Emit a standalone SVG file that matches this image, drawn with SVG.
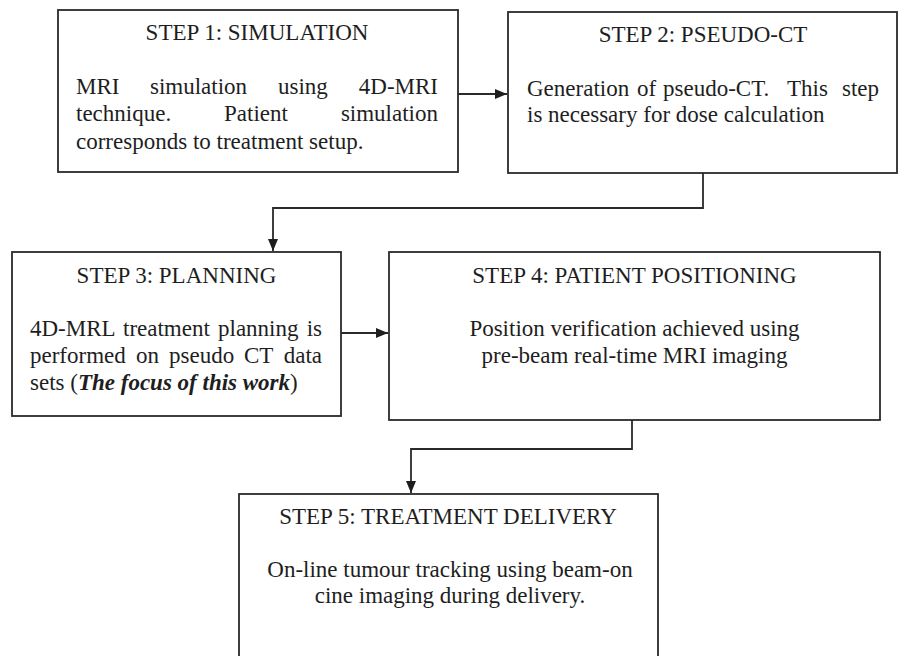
<svg xmlns="http://www.w3.org/2000/svg" width="901" height="656" viewBox="0 0 901 656">
<style>
.box{fill:#fff;stroke:#2a2a2a;stroke-width:1.8}
text{font-family:'Liberation Serif','Times New Roman','DejaVu Serif',serif;font-size:23px;fill:#1e1e1e}
.c{text-anchor:middle}
.e{text-anchor:end}
.bi{font-weight:bold;font-style:italic}
.ln{fill:none;stroke:#2a2a2a;stroke-width:1.8}
</style>
<defs>
<marker id="ah" viewBox="0 0 12 10" refX="12" refY="5" markerWidth="12" markerHeight="10" markerUnits="userSpaceOnUse" orient="auto">
<path d="M0,0 L12,5 L0,10 Z" fill="#1e1e1e"/>
</marker>
</defs>
<rect width="901" height="656" fill="#fff"/>
<g id="connectors">
<path class="ln" d="M458,94 H507" marker-end="url(#ah)"/>
<path class="ln" d="M703,173 V208 H273 V251" marker-end="url(#ah)"/>
<path class="ln" d="M341,333 H388" marker-end="url(#ah)"/>
<path class="ln" d="M632,420 V449 H411 V493" marker-end="url(#ah)"/>
</g>
<g id="step1">
<rect class="box" x="58" y="10" width="400" height="162"/>
<text class="c" x="257" y="40">STEP 1: SIMULATION</text>
<text x="76" y="94">MRI</text>
<text x="150" y="94">simulation</text>
<text x="278" y="94">using</text>
<text class="e" x="438" y="94">4D-MRI</text>
<text x="76" y="121">technique.</text>
<text x="224" y="121">Patient</text>
<text class="e" x="438" y="121">simulation</text>
<text x="76" y="149">corresponds to treatment setup.</text>
</g>
<g id="step2">
<rect class="box" x="508" y="12" width="389" height="161"/>
<text class="c" x="703" y="42">STEP 2: PSEUDO-CT</text>
<text x="527" y="96">Generation</text>
<text x="637" y="96">of</text>
<text x="663" y="96">pseudo-CT.</text>
<text x="787" y="96">This</text>
<text class="e" x="879" y="96">step</text>
<text x="527" y="122">is necessary for dose calculation</text>
</g>
<g id="step3">
<rect class="box" x="12" y="252" width="329" height="164"/>
<text class="c" x="176.5" y="283">STEP 3: PLANNING</text>
<text x="30" y="336">4D-MRL</text>
<text x="123" y="336">treatment</text>
<text x="218" y="336">planning</text>
<text class="e" x="322" y="336">is</text>
<text x="30" y="363">performed</text>
<text x="136" y="363">on</text>
<text x="169" y="363">pseudo</text>
<text x="244" y="363">CT</text>
<text class="e" x="322" y="363">data</text>
<text x="30" y="390">sets (<tspan class="bi">The focus of this work</tspan>)</text>
</g>
<g id="step4">
<rect class="box" x="389" y="252" width="491" height="168"/>
<text class="c" x="634.5" y="283">STEP 4: PATIENT POSITIONING</text>
<text class="c" x="634.5" y="336">Position verification achieved using</text>
<text class="c" x="634.5" y="363">pre-beam real-time MRI imaging</text>
</g>
<g id="step5">
<rect class="box" x="239" y="494" width="419" height="180"/>
<text class="c" x="448" y="524">STEP 5: TREATMENT DELIVERY</text>
<text class="c" x="450" y="577">On-line tumour tracking using beam-on</text>
<text class="c" x="450" y="603">cine imaging during delivery.</text>
</g>
</svg>
